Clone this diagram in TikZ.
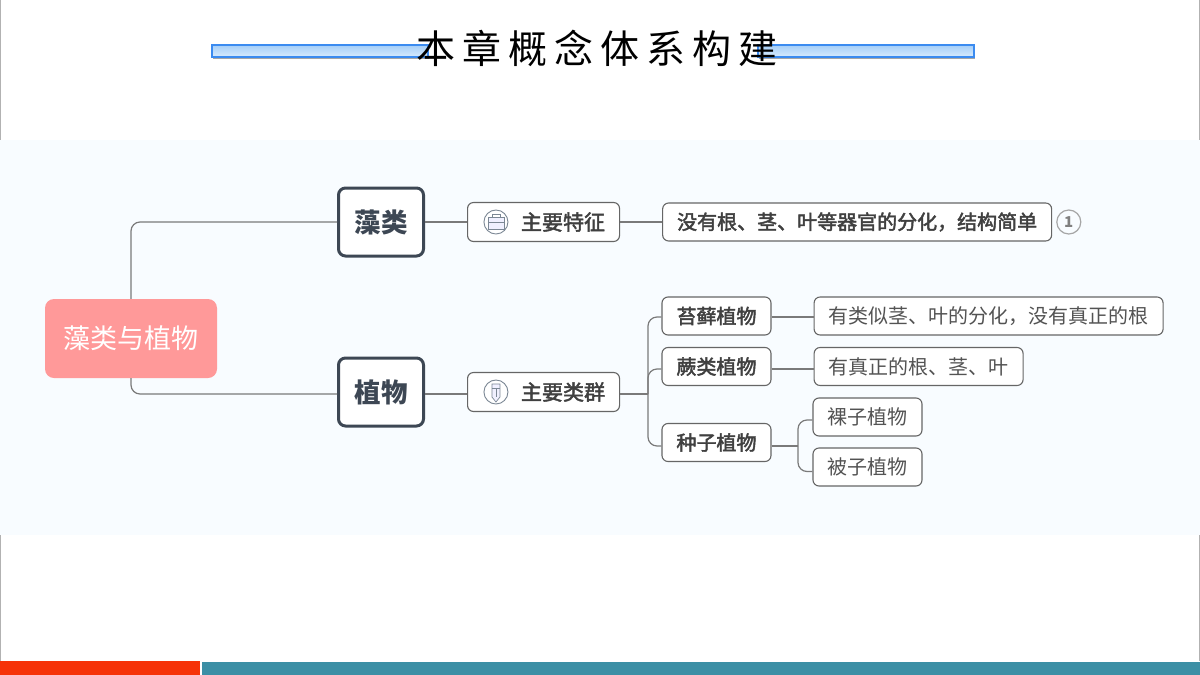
\documentclass[tikz,border=0pt]{standalone}
\usepackage{fontspec}
\setmainfont{Noto Sans CJK SC}
\newfontfamily\semi{Noto Sans CJK SC}[FakeBold=2.2]
\usetikzlibrary{positioning,shadows}
\definecolor{panel}{HTML}{F8FCFF}
\definecolor{rootred}{HTML}{FF9999}
\definecolor{slate}{HTML}{3D4754}
\definecolor{wire}{HTML}{7A7A7A}
\definecolor{boxline}{HTML}{666666}
\definecolor{ink}{HTML}{404040}
\definecolor{barblue}{HTML}{3B8BF0}
\definecolor{bartop}{HTML}{A4CEF8}
\definecolor{barlow}{HTML}{D8EBFD}
\definecolor{iconline}{HTML}{7B8794}

\begin{document}
\begin{tikzpicture}[
    , x = 1pt
    , y = -1pt
    , wire/.style = {
      , draw = wire
      , line width = 1.2pt
      , rounded corners = 9pt
    }
    , n/.style = {
      , draw = boxline
      , fill = white
      , line width = 1.1pt
      , rounded corners = 6pt
      , inner xsep = 14.5pt
      , inner ysep = 0pt
      , minimum height = 38pt
    }
    , head/.style = {
      , n
      , font = \fontsize{20pt}{24pt}\semi
      , text = ink
    }
    , leaf/.style = {
      , n
      , font = \fontsize{20pt}{24pt}\selectfont
      , text = ink!90
    }
    , big/.style = {
      , draw = slate
      , fill = white
      , line width = 3pt
      , rounded corners = 7pt
      , minimum width = 85pt
      , minimum height = 68pt
      , font = \fontsize{26.5pt}{30pt}\selectfont\bfseries
      , text = slate
    }
    , feat/.style = {
      , head
      , minimum width = 152pt
      , minimum height = 39pt
      , font = \fontsize{21pt}{25pt}\semi
    }
    , ico/.style = {
      , circle
      , draw = iconline
      , fill = white
      , line width = .9pt
      , minimum size = 24pt
      , inner sep = 0pt
    }
    , glyph/.style = {
      , draw = iconline
      , line width = .7pt
    }
    , bar/.style = {
      , draw = barblue
      , line width = 1.2pt
      , top color = bartop
      , bottom color = barlow
      , drop shadow = {shadow xshift = 1pt, shadow yshift = -2pt, opacity = .7, fill = gray}
    }
    , node distance = 42pt and 42pt
  ]
    \useasboundingbox (0,0) rectangle (1200,675);
    % page
    \fill [white] (0,0) rectangle (1200,675);
    \fill [panel] (0,140) rectangle (1200,535);
    \draw [gray!60, line width = 1pt] (.5,0) -- (.5,140) (.5,535) -- (.5,661);
    \draw [gray!60, line width = 1pt] (1199.5,0) -- (1199.5,140) (1199.5,535) -- (1199.5,661);
    \fill [fill = {rgb,255:red,246;green,50;blue,8}] (0,661) rectangle (200,675);
    \fill [fill = {rgb,255:red,60;green,143;blue,165}] (202,662) rectangle (1200,675);
    % title
    \draw [bar] (212,45) rectangle (428,57);
    \draw [bar] (758,45) rectangle (974,57);
    \node (title) at (597,48) [font = \fontsize{39pt}{42pt}\selectfont\addfontfeature{LetterSpace=18}] {本章概念体系构建};
    % nodes
    \node (root) at (131,338.5) [
      , fill = rootred
      , rounded corners = 9pt
      , minimum width = 172pt
      , minimum height = 79pt
      , text = white
      , font = \fontsize{27pt}{30pt}\selectfont
    ] {\raisebox{-1.5pt}{藻类与植物}};
    \node (zao) at (381,222) [big] {藻类};
    \node (zhi) at (381,392) [big] {植物};
    \node (trait) [feat, right = 42pt of zao] {\hspace*{39pt}主要特征};
    \node (group) [feat, right = 42pt of zhi] {\hspace*{39pt}主要类群};
    \node (traittxt) [head, right = 42pt of trait] {没有根、茎、叶等器官的分化，结构简单};
    \node (mark) [
      , circle
      , draw = gray!70
      , line width = 1.2pt
      , minimum size = 24pt
      , inner sep = 0pt
      , text = gray
      , font = \fontsize{15pt}{16pt}\selectfont\bfseries
      , right = 4pt of traittxt
    ] {1};
    \node (moss) at (716.5,316) [head] {\raisebox{1pt}{苔藓植物}};
    \node (fern) at (716.5,366.5) [head] {\raisebox{1pt}{蕨类植物}};
    \node (seed) at (716.5,442.5) [head] {\raisebox{1pt}{种子植物}};
    \node (mossinfo) [leaf, right = 42pt of moss] {有类似茎、叶的分化，没有真正的根};
    \node (ferninfo) [leaf, right = 42pt of fern] {有真正的根、茎、叶};
    \node (gymno) at (867.5,417) [leaf] {裸子植物};
    \node (angio) at (867.5,467) [leaf] {被子植物};
    % icons
    \node (case) [ico, right = 16.5pt of trait.west] {};
    \draw [glyph, fill = blue!6] ([shift = {(-8,-5)}]case.center) rectangle ([shift = {(8,7)}]case.center);
    \draw [glyph] ([shift = {(-8,0)}]case.center) -- ([shift = {(8,0)}]case.center);
    \draw [glyph] ([shift = {(-4,-5)}]case.center) -- ([shift = {(-4,-8)}]case.center) -- ([shift = {(4,-8)}]case.center) -- ([shift = {(4,-5)}]case.center);
    \node (pen) [ico, right = 16.5pt of group.west] {};
    \draw [glyph, fill = blue!6] ([shift = {(-4,-8)}]pen.center) -- ([shift = {(4,-8)}]pen.center) -- ([shift = {(4,5)}]pen.center) -- ([shift = {(0,10)}]pen.center) -- ([shift = {(-4,5)}]pen.center) -- cycle;
    \draw [glyph] ([shift = {(-4,-4)}]pen.center) -- ([shift = {(4,-4)}]pen.center);
    \draw [glyph] ([shift = {(0,-4)}]pen.center) -- ([shift = {(0,5)}]pen.center);
    % connectors
    \draw [wire] (root.north) |- (zao.west);
    \draw [wire] (root.south) |- ([yshift = -2pt]zhi.west);
    \draw [wire] (zao.east) -- (trait.west);
    \draw [wire] ([yshift = -2pt]zhi.east) -- ([yshift = -2pt]group.west);
    \draw [wire] (trait.east) -- (traittxt.west);
    \coordinate (forkA) at (648,394);
    \draw [wire] ([yshift = -2pt]group.east) -- (forkA);
    \draw [wire] (forkA) |- ([yshift = -1pt]moss.west);
    \draw [wire] (forkA) |- ([yshift = -2.5pt]fern.west);
    \draw [wire] (forkA) |- ([yshift = -3.5pt]seed.west);
    \draw [wire] ([yshift = -1pt]moss.east) -- ([yshift = -1pt]mossinfo.west);
    \draw [wire] ([yshift = -2.5pt]fern.east) -- ([yshift = -2.5pt]ferninfo.west);
    \coordinate (forkB) at (798,446);
    \draw [wire] ([yshift = -3.5pt]seed.east) -- (forkB);
    \draw [wire] (forkB) |- ([yshift = -3pt]gymno.west);
    \draw [wire] (forkB) |- ([yshift = -4.5pt]angio.west);
  \end{tikzpicture}
\end{document}
